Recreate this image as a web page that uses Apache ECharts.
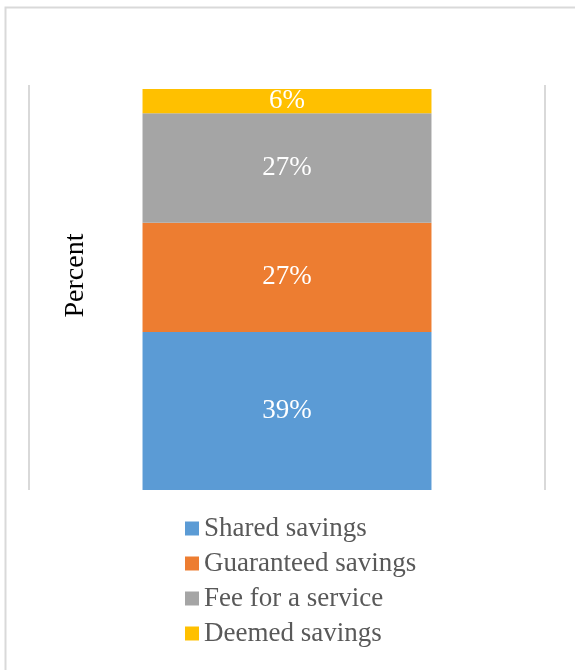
<!DOCTYPE html>
<html>
<head>
<meta charset="utf-8">
<script src="https://cdn.jsdelivr.net/npm/echarts@6/dist/echarts.min.js"></script>
<style>
  html, body { margin: 0; padding: 0; background: #ffffff; }
  #chart { width: 575px; height: 670px; }
</style>
</head>
<body>
<div id="chart"></div>
<script>
// Contract types, bottom of the stack first
const contractTypes = ['Shared savings', 'Guaranteed savings', 'Fee for a service', 'Deemed savings'];
// Share of contracts per type, percent
const sharePercent = [39, 27, 27, 6];
// Single column on the category axis
const categories = [''];
const axisTitle = 'Percent';

const palette = ['#5B9BD5', '#ED7D31', '#A5A5A5', '#FFC000'];
const serif = '"Liberation Serif", "Times New Roman", "DejaVu Serif", serif';

const chart = echarts.init(document.getElementById('chart'), null, { renderer: 'canvas' });

const series = contractTypes.map((name, i) => ({
  name: name,
  type: 'bar',
  stack: 'total',
  barWidth: '56%',
  data: [sharePercent[i]],
  itemStyle: { color: palette[i] },
  label: {
    show: true,
    position: 'inside',
    formatter: '{c}%',
    color: '#ffffff',
    fontFamily: serif,
    fontSize: 27
  },
  emphasis: { disabled: true }
}));

chart.setOption({
  animation: false,
  backgroundColor: '#ffffff',
  graphic: [{
    type: 'rect',
    left: 3,
    top: 5,
    shape: { width: 620, height: 720 },
    style: { fill: 'none', stroke: '#d9d9d9', lineWidth: 2 },
    silent: true
  }],
  grid: { left: 29, right: 30, top: 85, bottom: 180, containLabel: false },
  xAxis: {
    type: 'category',
    data: categories,
    axisLine: { show: false },
    axisTick: { show: false },
    axisLabel: { show: false },
    splitLine: { show: true, lineStyle: { color: '#d9d9d9', width: 2 } }
  },
  yAxis: {
    type: 'value',
    min: 0,
    max: 100,
    axisLine: { show: false },
    axisTick: { show: false },
    axisLabel: { show: false },
    splitLine: { show: false },
    name: axisTitle,
    nameLocation: 'middle',
    nameRotate: 90,
    nameGap: -61,
    nameTextStyle: { color: '#000000', fontFamily: serif, fontSize: 28, padding: [0, 0, 0, 24] }
  },
  legend: {
    orient: 'vertical',
    left: 180,
    top: 510,
    itemWidth: 14,
    itemHeight: 14,
    itemGap: 8,
    icon: 'rect',
    data: contractTypes,
    textStyle: { color: '#595959', fontFamily: serif, fontSize: 27, lineHeight: 26 }
  },
  series: series
});
</script>
</body>
</html>
